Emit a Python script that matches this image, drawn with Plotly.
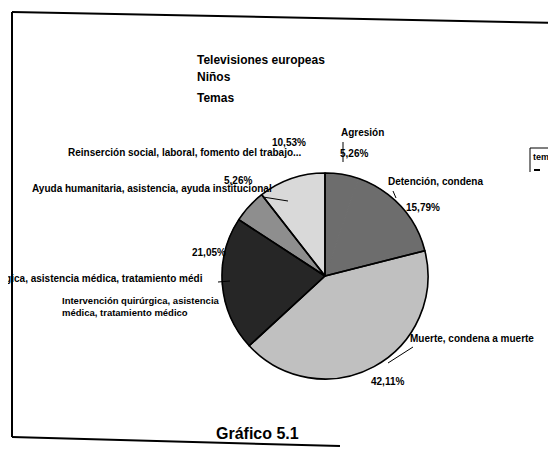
import plotly.graph_objects as go

W, H = 556, 449

temas = ["Agresión", "Detención, condena", "Muerte, condena a muerte",
         "Intervención quirúrgica, asistencia médica, tratamiento médico",
         "Ayuda humanitaria, asistencia, ayuda institucional",
         "Reinserción social, laboral, fomento del trabajo..."]
porcentajes = [5.26, 15.79, 42.11, 21.05, 5.26, 10.53]
grises = ["#6d6d6d", "#6d6d6d", "#c0c0c0", "#262626", "#8e8e8e", "#d9d9d9"]

titulo = ["Televisiones europeas", "Niños", "Temas"]
pie_texto = "Gráfico 5.1"

FONT = "Liberation Sans, Arial, sans-serif"
OFF = 8  # page body margin


def px(x):
    return (x - OFF) / W


def py(y):
    return 1 - (y - OFF) / H


def pct(v):
    return f"{v:.2f}".replace(".", ",") + "%"


dom = dict(x=[px(222), px(428)], y=[py(381), py(171)])

fig = go.Figure(go.Pie(
    labels=temas, values=porcentajes, sort=False, direction="clockwise",
    rotation=0, textinfo="none", hoverinfo="label+percent",
    marker=dict(colors=grises, line=dict(color=grises, width=1)),
    domain=dom, showlegend=False,
))

# outline: Agresión and Detención share one grey, drawn as one wedge
contorno = [porcentajes[0] + porcentajes[1]] + porcentajes[2:]
fig.add_trace(go.Pie(
    values=contorno, sort=False, direction="clockwise", rotation=0,
    textinfo="none", hoverinfo="skip",
    marker=dict(colors=["rgba(0,0,0,0)"] * len(contorno),
                line=dict(color="black", width=1.6)),
    domain=dom, showlegend=False,
))

# label placement (pixel coords of the scanned page)
# (name x, name y, anchor, pct x, pct y)
pos = [
    (362, 133, "center", 354, 153),
    (435, 181, "center", 423, 207),
    (472, 338, "center", 387, 381),
    (205, 278, "right", 209, 253),
    (152, 189, "center", 238, 180),
    (185, 152, "center", 289, 142),
]

ann = []
for i, (nx, ny, anc, qx, qy) in enumerate(pos):
    name = temas[i]
    if i == 3:
        name = "Intervención quirúrgica, asistencia médica, tratamiento médi"
    ann.append(dict(x=px(nx), y=py(ny), text="<b>" + name + "</b>", xanchor=anc,
                    font=dict(size=10)))
    ann.append(dict(x=px(qx), y=py(qy), text="<b>" + pct(porcentajes[i]) + "</b>",
                    xanchor="center", font=dict(size=10)))

ann.append(dict(x=px(60), y=py(306), xanchor="left", align="left",
                text="<b>Intervención quirúrgica, asistencia<br>médica, tratamiento médico</b>",
                font=dict(size=9.5)))

ty = [60, 77, 98]
for t, y in zip(titulo, ty):
    ann.append(dict(x=px(195), y=py(y), xanchor="left", text="<b>" + t + "</b>",
                    font=dict(size=12)))

ann.append(dict(x=px(257), y=py(433), text="<b>" + pie_texto + "</b>",
                font=dict(size=16)))
ann.append(dict(x=px(531), y=py(157), xanchor="left", text="<b>tem</b>",
                font=dict(size=9)))

for a in ann:
    a.update(xref="paper", yref="paper", showarrow=False, yanchor="middle")
    a["font"].update(family=FONT, color="black")

lines = [
    ((12, 12), (564, 23), 2),
    ((12, 12), (12, 437), 2),
    ((12, 437), (340, 446), 2),
    ((343, 142), (343, 162), 1),
    ((393, 191), (396, 198), 1),
    ((388, 363), (413, 347), 1),
    ((218, 282), (230, 281), 1),
    ((263, 197), (288, 201), 1),
    ((530, 148), (548, 148), 1),
    ((530, 148), (530, 172), 1),
    ((534, 170), (540, 170), 2),
]
shapes = [dict(type="line", xref="paper", yref="paper",
               x0=px(a[0]), y0=py(a[1]), x1=px(b[0]), y1=py(b[1]),
               line=dict(color="black", width=w)) for a, b, w in lines]

fig.update_layout(
    width=W, height=H, margin=dict(l=0, r=0, t=0, b=0),
    paper_bgcolor="white", plot_bgcolor="white",
    annotations=ann, shapes=shapes,
)

fig.write_html("out.html")
